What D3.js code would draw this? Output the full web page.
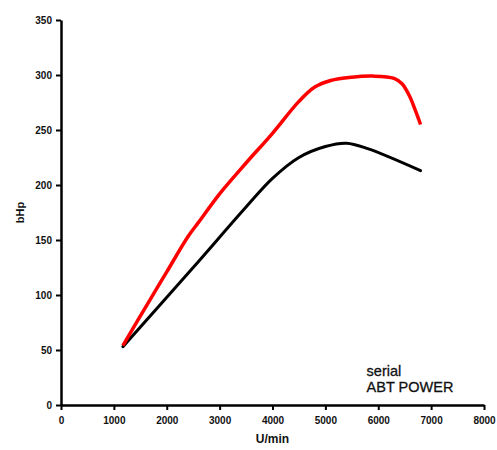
<!doctype html>
<html lang="en">
<head>
    <meta charset="UTF-8">
    <title>Power curve</title>
    <script src="https://cdn.jsdelivr.net/npm/d3@7"></script>
    <style>
        body { margin: 0; background: #fff; }
        text { font-family: "Liberation Sans", Arial, sans-serif; }
    </style>
</head>
<body>
    <svg width="497" height="450"></svg>
    <script>
        // engine speed (U/min) and power (bHp)
        const abtRpm = [1170, 1700, 2000, 2400, 2600, 3000, 3500, 4000, 4500, 4800, 5100, 5500, 5900, 6300, 6450, 6600, 6700, 6800];
        const abtHp = [54, 97, 121, 153, 166, 192, 220, 247, 276, 289, 295, 298, 299, 297, 292, 280, 268, 255];

        const serialRpm = [1170, 2500, 3500, 4000, 4500, 5000, 5400, 5800, 6800];
        const serialHp = [53, 125, 180, 206, 225, 235, 238, 233, 213];

        const xTicks = [0, 1000, 2000, 3000, 4000, 5000, 6000, 7000, 8000];
        const yTicks = [0, 50, 100, 150, 200, 250, 300, 350];

        const svg = d3.select("svg"),
            margin = { top: 20, right: 13, bottom: 45, left: 61 },
            width = +svg.attr("width") - margin.left - margin.right,
            height = +svg.attr("height") - margin.top - margin.bottom;

        const g = svg.append("g")
            .attr("transform", "translate(" + margin.left + "," + margin.top + ")");

        const x = d3.scaleLinear().domain([0, 8000]).range([0, width]);
        const y = d3.scaleLinear().domain([0, 350]).range([height, 0]);

        // axes
        const xAxis = g.append("g")
            .attr("transform", "translate(0," + height + ")")
            .call(d3.axisBottom(x).tickValues(xTicks).tickFormat(d3.format("d")).tickSize(5).tickPadding(7).tickSizeOuter(0));
        const yAxis = g.append("g")
            .call(d3.axisLeft(y).tickValues(yTicks).tickFormat(d3.format("d")).tickSize(5).tickPadding(4).tickSizeOuter(0));

        [xAxis, yAxis].forEach(function (a) {
            a.select(".domain").attr("stroke", "#000").attr("stroke-width", 2.5);
            a.selectAll(".tick line").attr("stroke", "#000").attr("stroke-width", 2);
            a.selectAll(".tick text")
                .attr("fill", "#111")
                .style("font-size", "10px")
                .style("font-weight", "bold");
        });

        // curves
        const line = d3.line()
            .x(function (d) { return x(d[0]); })
            .y(function (d) { return y(d[1]); })
            .curve(d3.curveCatmullRom.alpha(0.5));

        g.append("path")
            .datum(d3.zip(serialRpm, serialHp))
            .attr("fill", "none")
            .attr("stroke", "#000")
            .attr("stroke-width", 3)
            .attr("stroke-linecap", "round")
            .attr("d", line);

        g.append("path")
            .datum(d3.zip(abtRpm, abtHp))
            .attr("fill", "none")
            .attr("stroke", "#ff0000")
            .attr("stroke-width", 3.5)
            .attr("stroke-linecap", "butt")
            .attr("d", line);

        // axis titles
        g.append("text")
            .attr("x", width / 2)
            .attr("y", height + 38)
            .attr("text-anchor", "middle")
            .style("font-size", "12px")
            .style("font-weight", "bold")
            .attr("fill", "#111")
            .text("U/min");

        g.append("text")
            .attr("transform", "translate(-37," + height / 2 + ") rotate(-90)")
            .attr("text-anchor", "middle")
            .style("font-size", "11px")
            .style("font-weight", "bold")
            .attr("fill", "#111")
            .text("bHp");

        // legend text
        const legend = g.append("text")
            .attr("x", x(5780))
            .attr("y", y(26))
            .style("font-size", "14.5px")
            .style("stroke", "#111")
            .style("stroke-width", 0.3)
            .attr("fill", "#111");
        legend.append("tspan").attr("x", x(5780)).text("serial");
        legend.append("tspan").attr("x", x(5780)).attr("dy", 16).text("ABT POWER");
    </script>
</body>
</html>
